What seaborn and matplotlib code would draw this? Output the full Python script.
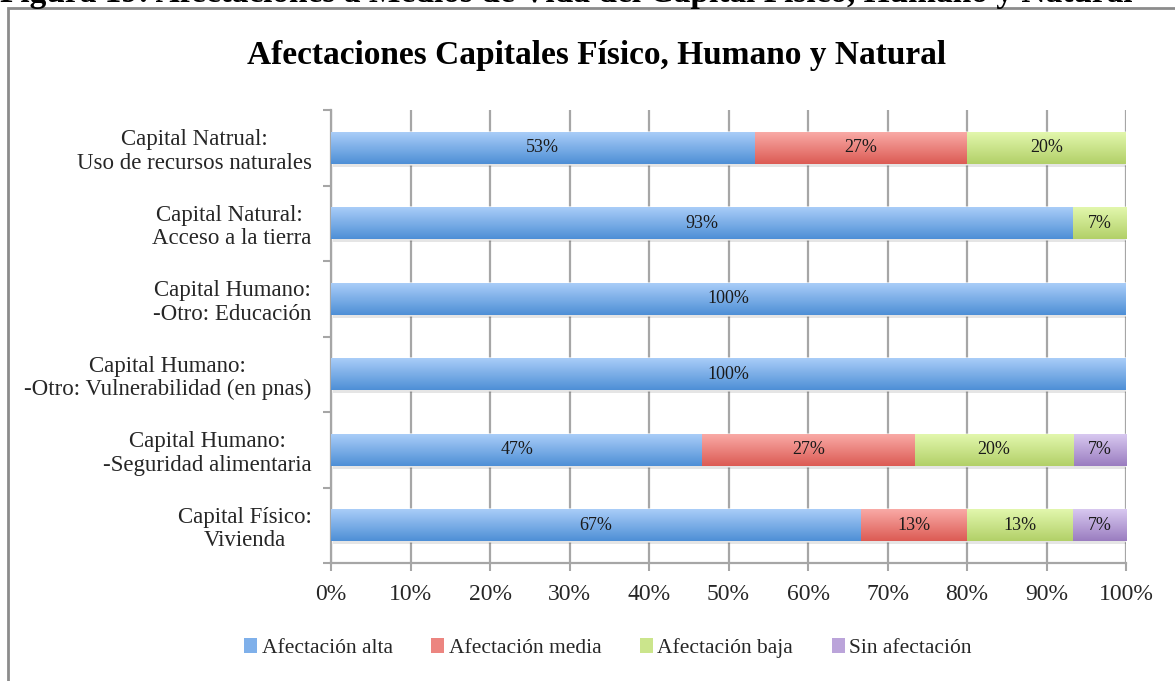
import numpy as np
import pandas as pd
import matplotlib
matplotlib.use("Agg")
import matplotlib.pyplot as plt
import seaborn as sns
from matplotlib.patches import Patch, Rectangle
from matplotlib.colors import to_rgb

# ---------------- data ----------------
categories = [
    "Capital Natrual:\nUso de recursos naturales",
    "Capital Natural: \nAcceso a la tierra",
    "Capital Humano:\n-Otro: Educación",
    "Capital Humano:\n-Otro: Vulnerabilidad (en pnas)",
    "Capital Humano:\n-Seguridad alimentaria",
    "Capital Físico:\nVivienda",
]
series_names = ["Afectación alta", "Afectación media", "Afectación baja", "Sin afectación"]
alta = [53.3, 93.3, 100.0, 100.0, 46.7, 66.7]
media = [26.7, 0.0, 0.0, 0.0, 26.7, 13.3]
baja = [20.0, 6.7, 0.0, 0.0, 20.0, 13.3]
sin_af = [0.0, 0.0, 0.0, 0.0, 6.7, 6.7]
x_ticks = [0, 10, 20, 30, 40, 50, 60, 70, 80, 90, 100]
x_tick_labels = ["0%", "10%", "20%", "30%", "40%", "50%", "60%", "70%", "80%", "90%", "100%"]
title = "Afectaciones Capitales Físico, Humano y Natural"
caption = "Figura 19: Afectaciones a Medios de Vida del Capital Físico, Humano y Natural"

# ---------------- style ----------------
sns.set_style("white")
plt.rcParams["font.family"] = ["Liberation Serif", "DejaVu Serif"]

top_cols = ["#a9cdf8", "#f9aaa6", "#e2f7ad", "#d8c8f0"]
bot_cols = ["#4e8fd6", "#dc5b54", "#b2d068", "#9a7dc0"]
mid_cols = ["#7fb0ea", "#ec8580", "#cbe58c", "#bba4da"]

W, H = 1175, 681
fig = plt.figure(figsize=(W / 100, H / 100), dpi=100)
ax = fig.add_axes([331 / W, 1 - 563 / H, (1126 - 331) / W, (563 - 110) / H])

df = pd.DataFrame({"cat": categories, series_names[0]: alta, series_names[1]: media,
                   series_names[2]: baja, series_names[3]: sin_af})
vals = df[series_names].to_numpy()
cum = np.cumsum(vals, axis=1)
for k in range(len(series_names)):
    df["cum_%d" % k] = cum[:, k]

bar_h = 0.42
for k in reversed(range(len(series_names))):
    sns.barplot(data=df, x="cum_%d" % k, y="cat", orient="h", color=mid_cols[k],
                saturation=1, width=bar_h, ax=ax, zorder=2)

# gradient overlay for each segment
n = len(categories)
for k in range(len(series_names)):
    t = np.array(to_rgb(top_cols[k]))
    b = np.array(to_rgb(bot_cols[k]))
    grad = np.linspace(0, 1, 64)[:, None, None]
    img = t[None, None, :] * (1 - grad) + b[None, None, :] * grad
    for j in range(n):
        left = cum[j, k] - vals[j, k]
        right = cum[j, k]
        if vals[j, k] <= 0:
            continue
        ax.imshow(img, extent=(left, right, j + bar_h / 2, j - bar_h / 2),
                  aspect="auto", interpolation="bilinear", zorder=3)
        ax.text((left + right) / 2, j, "%d%%" % round(vals[j, k]), ha="center",
                va="center", fontsize=13, color="#1a1a1a", zorder=5)

# shadow below each full bar
for j in range(n):
    ax.add_patch(Rectangle((0.3, j + bar_h / 2), cum[j, -1], 0.04, color="#000000",
                           alpha=0.10, lw=0, zorder=2.5))

ax.set_xlim(0, 100)
ax.set_ylim(n - 0.5, -0.5)
ax.set_xticks(x_ticks)
ax.set_xticklabels(x_tick_labels, fontsize=17)
ax.set_xlabel("")
ax.set_ylabel("")
ax.xaxis.grid(True, color="#a6a6a6", lw=1.6)
ax.yaxis.grid(False)
ax.set_axisbelow(True)

ax.set_yticks(range(n))
ax.set_yticklabels(categories, fontsize=16.5)
for lab in ax.get_yticklabels():
    lab.set_multialignment("center")
    lab.set_linespacing(1.15)
ax.set_yticks(np.arange(-0.5, n, 1.0), minor=True)
ax.tick_params(axis="y", which="major", length=0, pad=14)
ax.tick_params(axis="y", which="minor", length=6, color="#a6a6a6", width=1.5, direction="out", left=True)
ax.tick_params(axis="x", which="major", length=6, color="#a6a6a6", width=1.5, direction="out",
               bottom=True, pad=9)

for s in ["top", "right"]:
    ax.spines[s].set_visible(False)
for s in ["left", "bottom"]:
    ax.spines[s].set_color("#a6a6a6")
    ax.spines[s].set_linewidth(1.6)

# title and caption
fig.text(597 / W, 1 - 64 / H, title, ha="center", va="baseline", fontsize=24,
         fontweight="bold", color="#000000")
fig.text(0.0, 1 - 2 / H, caption, ha="left", va="baseline", fontsize=24,
         fontweight="bold", color="#000000")

# outer frame
fig.add_artist(Rectangle((8 / W, -0.05), 1.0, 1 - 8 / H + 0.05, transform=fig.transFigure,
                         fill=False, ec="#8c8c8c", lw=2))

handles = [Patch(facecolor=mid_cols[k], edgecolor="none") for k in range(len(series_names))]
fig.legend(handles, series_names, loc="center", bbox_to_anchor=(608 / W, 1 - 648 / H),
           ncol=4, frameon=False, fontsize=15.5, handlelength=0.6, handleheight=0.7,
           handletextpad=0.2, columnspacing=1.8)

fig.savefig("out.png", dpi=100)
